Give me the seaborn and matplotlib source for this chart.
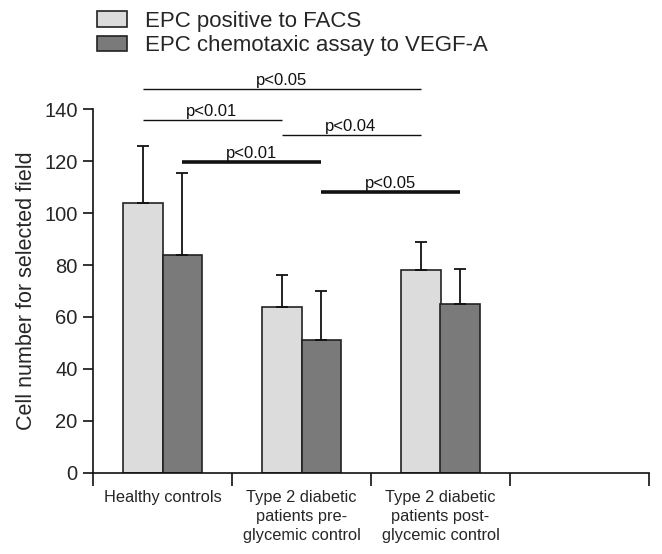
import matplotlib
matplotlib.use("Agg")
import matplotlib.pyplot as plt
import seaborn as sns
import pandas as pd
import numpy as np
from matplotlib.ticker import FixedLocator

# ---- data ----
groups = ["Healthy controls",
          "Type 2 diabetic\npatients pre-\nglycemic control",
          "Type 2 diabetic\npatients post-\nglycemic control"]
series = ["EPC positive to FACS", "EPC chemotaxic assay to VEGF-A"]
facs_mean = [104, 64, 78]
facs_err = [22, 12, 11]
chemo_mean = [84, 51, 65]
chemo_err = [31.5, 19, 13.5]

# significance annotations
sig_a_group = [0, 0, 1, 0, 1]
sig_b_group = [2, 1, 2, 1, 2]
sig_series = [0, 0, 0, 1, 1]
sig_y = [147.7, 135.9, 130.1, 119.6, 108.0]
sig_label = ["p<0.05", "p<0.01", "p<0.04", "p<0.01", "p<0.05"]
sig_thick = [False, False, False, True, True]

yticks = [0, 20, 40, 60, 80, 100, 120, 140]

sns.set_theme(style="white")
plt.rcParams["font.family"] = ["Liberation Sans", "DejaVu Sans"]

df = pd.DataFrame({
    "group": groups * 2,
    "series": [series[0]] * 3 + [series[1]] * 3,
    "value": facs_mean + chemo_mean,
})

fig = plt.figure(figsize=(6.62, 5.54), dpi=100)
ax = fig.add_axes([93 / 662, 1 - 472.7 / 554, (649 - 93) / 662, (472.7 - 109.3) / 554])

sns.barplot(data=df, x="group", y="value", hue="series", order=groups,
            hue_order=series, palette=["#dcdcdc", "#7a7a7a"], width=0.575,
            errorbar=None, edgecolor="#222222", linewidth=1.2, saturation=1,
            ax=ax, legend=True)

# error bars (upper only) at bar centres given by the library
means = [facs_mean, chemo_mean]
errs = [facs_err, chemo_err]
centers = {}
bar_containers = list(ax.containers)
for si, cont in enumerate(bar_containers):
    for gi, patch in enumerate(cont.patches):
        cx = patch.get_x() + patch.get_width() / 2
        centers[(gi, si)] = cx
        ax.errorbar(cx, means[si][gi], yerr=[[0], [errs[si][gi]]], fmt="none",
                    ecolor="#111111", elinewidth=1.3, capsize=4, capthick=1.3,
                    zorder=1)

ax.set_xlim(-0.5, 3.5)
ax.set_ylim(0, 140)
ax.set_yticks(yticks)
ax.set_ylabel("Cell number for selected field", fontsize=15.5, labelpad=5)
ax.set_xlabel("")
for s in ["top", "right"]:
    ax.spines[s].set_visible(False)
for s in ["left", "bottom"]:
    ax.spines[s].set_color("#111111")
    ax.spines[s].set_linewidth(1.2)

ax.set_xticks([0, 1, 2])
ax.set_xticklabels(groups, fontsize=11.8, linespacing=1.35)
ax.tick_params(axis="x", which="major", length=0, pad=12.5)
ax.xaxis.set_minor_locator(FixedLocator([-0.5, 0.5, 1.5, 2.5, 3.5]))
ax.tick_params(axis="x", which="minor", bottom=True, length=9, width=1.2,
               color="#111111", direction="out")
ax.tick_params(axis="y", left=True, length=7, width=1.2, color="#111111",
               labelsize=14.5, pad=4, direction="out")

# significance brackets
for ga, gb, si, y, lab, thick in zip(sig_a_group, sig_b_group, sig_series,
                                     sig_y, sig_label, sig_thick):
    x0 = centers[(ga, si)]
    x1 = centers[(gb, si)]
    ax.plot([x0, x1], [y, y], color="#111111", lw=2.6 if thick else 1.0,
            clip_on=False, solid_capstyle="butt")
    ax.text((x0 + x1) / 2, y + 1.6, lab, ha="center", va="baseline",
            fontsize=12, color="#111111", clip_on=False)

# legend
handles, labels = ax.get_legend_handles_labels()
ax.legend(handles, labels, loc="upper left",
          bbox_to_anchor=(97 / 662, 1 - 11 / 554),
          bbox_transform=fig.transFigure, frameon=False, fontsize=16,
          handlelength=1.35, handleheight=0.72, handletextpad=0.8,
          labelspacing=0.15, borderaxespad=0, borderpad=0)

fig.savefig("out.png", dpi=100)
